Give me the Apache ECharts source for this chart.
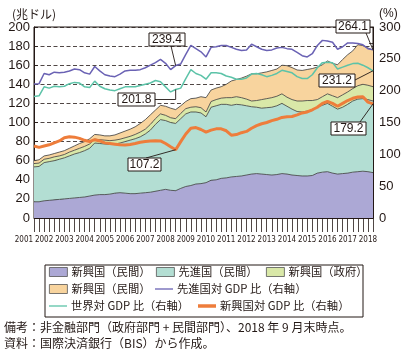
<!DOCTYPE html>
<html><head><meta charset="utf-8">
<script src="https://cdn.jsdelivr.net/npm/echarts@6/dist/echarts.min.js"></script>
<style>html,body{margin:0;padding:0;background:#fff}#c{width:405px;height:353px}</style>
</head><body><div id="c"></div>
<script>
// ---- data ----
const yearLabels = ['2001','2002','2003','2004','2005','2006','2007','2008','2009','2010','2011','2012','2013','2014','2015','2016','2017','2018'];
const quarters = [];
for (let y = 2001; y <= 2018; y++) for (let q = 1; q <= 4; q++) {
  if ((y === 2001 && q < 4) || (y === 2018 && q > 3)) continue;
  quarters.push(y + 'Q' + q);
}
// stacked layers (兆ドル)
const emPrivate = [17,17,18,18.5,19,19.5,20,20.5,21,21.5, 22,23,24,24.5,24.5,25,26,26.5,26,25.5, 25.5,26,26.5,27,28,29,30,29,28.6,31, 33,34,35.6,36,37,39.5,40,41.5,42,43, 43.5,44,45,46,46.5,46,45.5,45,45.5,46.5, 46,45,44.5,44,44,44.5,47,48,48.5,47, 46,46.5,47,48,48.5,49,48.5,47.5];
const aePrivate = [36.5,37,40,40.5,41,42,43,44.5,46,47, 48.5,50,54.5,53.5,53,52,51.5,52,54,56, 57.5,59,61.5,65,70,74,72,71,70.4,73, 76,77,75.4,74,69,76.5,77.5,77.5,77,75, 75.5,74.5,72.5,70.5,69.5,69,70,71,72,73.5, 71,69,67,67,68,68,69,70,71.5,70, 68,69.5,72,74.5,76,76,75.5,75];
const emGov = [3.5,3.5,3.5,3.5,4,3.5,3.5,4,4,4.5, 4.5,4.5,4,4,4,4,4,4,4,4, 4.5,5,5,6,6,6,5.5,5,5,5.5, 5.5,5,5.5,5.5,5,6,6.5,6.5,7,8, 8,7.5,7,6,7,9,9.5,10,10,10, 9.5,10,11,11.5,11,10.5,8,9,10,11, 12,13,13,13,14,15,15,15];
const topLayer = [3,3.5,3.5,3.5,3.5,4,4,4,4.5,5, 5,5.5,5,5,4.5,5,5.5,6.5,7,7.5, 8,9,10,10,9,9,9.5,10,9.5,8, 7.5,9,9,11.5,15,12,12,12,14,17.5, 18,20.5,24,28.5,28,28,28,28.5,28.5,30, 33,33.5,32.5,32,32.5,33.5,34,33.5,34.5,34, 34.5,37,39,39.5,43,40.5,39,38.5];
// ratios to GDP (%), right axis
const aeRatio = [210.5,211,227,225,229,228,229,231,234,233, 228,226,238,231,225,223,222,226,231,232, 232,233,236,240,244,249,243,233,239.4,242, 257,271,266,261,253,268,269,271,271,268, 265,263,264,273,269,265,263,264,267,268, 266,265,260,255,253,258,271,279,278,276, 265,269,275,275,274,272,266,264.1];
const worldRatio = [191,192,206,204,207,206,207,211,213,212, 206,205,215,207,203,201,200,203,206,206, 206,208,210,212,216,214,206,198,201.8,204, 219,233,227,224,218,228,228,227,223,221, 218,218,220,226,227,225,222,224,227,232, 230,228,222,219,219,225,236,244,244.5,244, 234,237,240,242.5,243,240,236,231.2];
const emRatio = [113,111,113,115,118,121,126,127.5,127,125, 122,120,123,121,118,117,116,115,114.5,115.5, 117,119,120,121,121.5,121,117,112,107.2,120, 132,141,142,139,135,138,140,140,137,130, 131,134,136,141,145,148,150,153,155,158, 159,159.5,162,165,166.5,170,174,180,183,180, 175.5,180,184.5,188,190,190.5,182,179.2];
// callouts: [series key, quarter index, text]
const callouts = [
  ['ae', 28, '239.4'], ['world', 28, '201.8'], ['em', 28, '107.2'],
  ['ae', 67, '264.1'], ['world', 67, '231.2'], ['em', 67, '179.2']
];

// ---- styles ----
const INK = '#231815';
const CJK = '"Noto Sans CJK JP", sans-serif';
const NUM = '"Liberation Sans", Arial, sans-serif';
const C = {emP:'#aca8d5', aeP:'#b3ded3', emG:'#d9e8a8', top:'#f8d49e', aeL:'#6a62b4', wL:'#5cc3a8', emL:'#ee7d3b'};

const GL = 34, GT = 27, GW = 339, GH = 191;
const step = GW / (quarters.length - 1);

const chart = echarts.init(document.getElementById('c'), null, {renderer:'canvas'});

function legendItem(name, left, rowCenter, color, kind, label) {
  const ih = kind === 'rect' ? 9 : (kind === 'thick' ? 3.5 : 1.3);
  return {
    data: [{name: name, itemStyle: {color: color, borderColor: kind === 'rect' ? '#555' : color, borderWidth: kind === 'rect' ? 0.8 : 0}}],
    left: left, top: rowCenter - 6, padding: 0, itemGap: 0,
    itemWidth: 18, itemHeight: ih, icon: 'rect', selectedMode: false,
    formatter: label ? () => label : undefined,
    textStyle: {fontSize: 11.3, lineHeight: 12, fontFamily: CJK, color: INK, padding: [0,0,0,-1]}
  };
}

const areaBase = {type:'line', xAxisIndex:0, yAxisIndex:0, stack:'debt', symbol:'none', z:2,
  lineStyle:{color:'#3a3a3a', width:0.8}};
const lineBase = {type:'line', xAxisIndex:0, yAxisIndex:1, symbol:'none', z:4};

const option = {
  animation: false,
  backgroundColor: '#fff',
  grid: [
    {left: GL, top: GT, width: GW, height: GH, show: true, borderColor: INK, borderWidth: 1, backgroundColor: 'transparent', containLabel: false},
    {left: GL - 4 * step, top: GT, width: (quarters.length + 4) * step, height: GH, containLabel: false}
  ],
  xAxis: [
    {type:'category', gridIndex:0, data: quarters, boundaryGap:false,
     axisLine:{show:true, lineStyle:{color:INK, width:1}},
     axisTick:{show:true, interval:0, length:14, lineStyle:{color:INK, width:0.8}},
     axisLabel:{show:false}, splitLine:{show:false}},
    {type:'value', gridIndex:0, min:0, max:quarters.length - 1, interval:4,
     axisLine:{show:false}, axisTick:{show:true, length:29, lineStyle:{color:INK, width:0.8}},
     axisLabel:{show:false}, splitLine:{show:false}},
    {type:'value', gridIndex:1, min:-4, max:quarters.length, interval:2,
     axisLine:{show:false}, axisTick:{show:false}, splitLine:{show:false},
     axisLabel:{margin:18, fontSize:8, fontFamily:'"DejaVu Sans Condensed", "Liberation Sans", sans-serif', color:INK,
       formatter: v => { const k = (v + 2) / 4; return (Number.isInteger(k) && k >= 0 && k < yearLabels.length) ? yearLabels[k] : ''; }}}
  ],
  yAxis: [
    {type:'value', gridIndex:0, position:'left', min:0, max:200, interval:20,
     name:'(兆ドル)', nameLocation:'end', nameGap:7,
     nameTextStyle:{fontSize:12, fontFamily:CJK, color:INK},
     axisLine:{show:true, lineStyle:{color:INK, width:1}},
     axisTick:{show:true, inside:true, length:4, lineStyle:{color:INK, width:0.8}},
     axisLabel:{margin:4, fontSize:13, fontFamily:NUM, color:INK},
     splitLine:{show:true, lineStyle:{type:[4,2.5], color:INK, width:0.8}}},
    {type:'value', gridIndex:0, position:'right', min:0, max:300, interval:50,
     name:'(%)', nameLocation:'end', nameGap:7,
     nameTextStyle:{fontSize:12, fontFamily:NUM, color:INK, align:'left', padding:[0,0,0,6]},
     axisLine:{show:true, lineStyle:{color:INK, width:1}},
     axisTick:{show:true, inside:true, length:4, lineStyle:{color:INK, width:0.8}},
     minorTick:{show:true, splitNumber:2, length:4, lineStyle:{color:INK, width:0.8}},
     axisLabel:{margin:6, fontSize:13, fontFamily:NUM, color:INK},
     splitLine:{show:false}},
    {type:'value', gridIndex:1, min:0, max:1, show:false}
  ],
  legend: [
    legendItem('新興国（民間）', 49, 272, C.emP, 'rect'),
    legendItem('先進国（民間）', 156, 272, C.aeP, 'rect'),
    legendItem('新興国（政府）', 266, 272, C.emG, 'rect'),
    legendItem('先進国（政府）', 49, 289, C.top, 'rect', '新興国（民間）'),
    legendItem('先進国対 GDP 比（右軸）', 155, 289, C.aeL, 'thin'),
    legendItem('世界対 GDP 比（右軸）', 49, 306, C.wL, 'thin'),
    legendItem('新興国対 GDP 比（右軸）', 198, 306, C.emL, 'thick')
  ],
  series: [
    Object.assign({}, areaBase, {name:'新興国（民間）', data: emPrivate, itemStyle:{color:C.emP}, areaStyle:{color:C.emP, opacity:1}}),
    Object.assign({}, areaBase, {name:'先進国（民間）', data: aePrivate, itemStyle:{color:C.aeP}, areaStyle:{color:C.aeP, opacity:1}}),
    Object.assign({}, areaBase, {name:'新興国（政府）', data: emGov, itemStyle:{color:C.emG}, areaStyle:{color:C.emG, opacity:1}}),
    Object.assign({}, areaBase, {name:'先進国（政府）', data: topLayer, itemStyle:{color:C.top}, areaStyle:{color:C.top, opacity:1}}),
    Object.assign({}, lineBase, {name:'先進国対 GDP 比（右軸）', data: aeRatio, itemStyle:{color:C.aeL}, lineStyle:{color:C.aeL, width:1.5}}),
    Object.assign({}, lineBase, {name:'世界対 GDP 比（右軸）', data: worldRatio, itemStyle:{color:C.wL}, lineStyle:{color:C.wL, width:1.5}}),
    Object.assign({}, lineBase, {name:'新興国対 GDP 比（右軸）', data: emRatio, itemStyle:{color:C.emL}, lineStyle:{color:C.emL, width:3}})
  ]
};
chart.setOption(option);

// ---- callouts & notes ----
const seriesData = {ae: aeRatio, world: worldRatio, em: emRatio};
function pt(key, i) { return chart.convertToPixel({xAxisIndex:0, yAxisIndex:1}, [i, seriesData[key][i]]); }
const boxes = [
  {box:[149,33,36,13], from:[171,46]},
  {box:[118,93,37,13], from:[155,99.5], elbow:true},
  {box:[128,158,33,13], from:[146,158]},
  {box:[336,20,34,13], from:[366,33]},
  {box:[319,74,36,13], from:[355,80]},
  {box:[331,122,35,13], from:[360,122]}
];
const g = [];
callouts.forEach((c, k) => {
  const b = boxes[k];
  const p = pt(c[0], c[1]);
  const pts = b.elbow ? [b.from, [p[0], b.from[1]], p] : [b.from, p];
  g.push({type:'polyline', z:100, shape:{points: pts}, style:{stroke:INK, lineWidth:0.9, fill:null}});
  g.push({type:'rect', z:101, shape:{x:b.box[0], y:b.box[1], width:b.box[2], height:b.box[3]}, style:{fill:'#fff', stroke:INK, lineWidth:1}});
  g.push({type:'text', z:102, x:b.box[0] + b.box[2] / 2, y:b.box[1] + b.box[3] / 2 + 0.5,
    style:{text:c[2], fill:INK, font:'12px "Liberation Sans", Arial, sans-serif', textAlign:'center', textVerticalAlign:'middle'}});
});
g.push({type:'rect', z:50, shape:{x:45, y:265, width:318, height:52}, style:{fill:null, stroke:INK, lineWidth:1}});
g.push({type:'text', x:4, y:327, style:{text:'備考：非金融部門（政府部門 + 民間部門）、2018 年 9 月末時点。', fill:INK, font:'12px "Noto Sans CJK JP", sans-serif', textVerticalAlign:'middle'}});
g.push({type:'text', x:4, y:343, style:{text:'資料：国際決済銀行（BIS）から作成。', fill:INK, font:'12px "Noto Sans CJK JP", sans-serif', textVerticalAlign:'middle'}});
chart.setOption({graphic: g});
</script>
</body></html>
